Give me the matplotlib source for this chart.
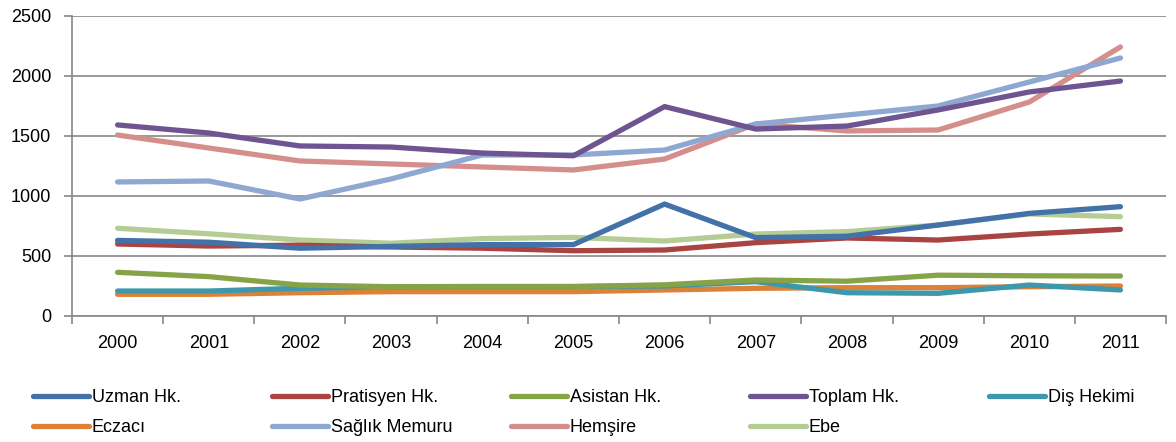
import matplotlib.pyplot as plt
from matplotlib.lines import Line2D

# years on the category axis
years = [str(y) for y in range(2000, 2012)]

uzman = [630, 615, 565, 580, 595, 595, 933, 653, 665, 758, 855, 911]
pratisyen = [600, 583, 590, 575, 565, 544, 550, 611, 650, 633, 683, 722]
asistan = [364, 328, 258, 244, 244, 245, 260, 300, 290, 340, 335, 333]
toplam = [1592, 1525, 1417, 1408, 1358, 1335, 1745, 1558, 1583, 1717, 1867, 1958]
dis_hekimi = [208, 208, 231, 244, 246, 246, 250, 286, 194, 189, 258, 217]
eczaci = [181, 181, 194, 203, 203, 203, 217, 231, 236, 236, 244, 250]
saglik_memuru = [1117, 1125, 975, 1142, 1342, 1342, 1383, 1600, 1675, 1750, 1950, 2150]
hemsire = [1508, 1400, 1292, 1267, 1242, 1217, 1308, 1600, 1542, 1550, 1783, 2242]
ebe = [731, 685, 633, 606, 645, 655, 625, 683, 703, 758, 850, 828]

series = [
    ("Uzman Hk.", uzman, "#4272a8"),
    ("Pratisyen Hk.", pratisyen, "#a94442"),
    ("Asistan Hk.", asistan, "#86a347"),
    ("Toplam Hk.", toplam, "#6e5490"),
    ("Diş Hekimi", dis_hekimi, "#3d98ad"),
    ("Eczacı", eczaci, "#dc8136"),
    ("Sağlık Memuru", saglik_memuru, "#8ea8d1"),
    ("Hemşire", hemsire, "#d48f8d"),
    ("Ebe", ebe, "#b5cc94"),
]

fig = plt.figure(figsize=(11.76, 4.42), dpi=100)
ax = fig.add_axes([72 / 1176, 1 - 316 / 442, 1094 / 1176, 300 / 442])

x = range(len(years))
# draw in reverse so first series sits on top like the original
for name, vals, col in reversed(series):
    ax.plot(x, vals, color=col, lw=3.8, solid_capstyle="round",
            solid_joinstyle="round", label=name)

ax.set_xlim(-0.5, len(years) - 0.5)
ax.set_ylim(0, 2500)
ax.set_yticks(range(0, 2501, 500))
ax.set_xticks(list(x))
ax.set_xticklabels(years)
ax.set_xticks([i - 0.5 for i in range(len(years) + 1)], minor=True)
ax.tick_params(axis="x", which="major", length=0, pad=14, labelsize=13)
ax.tick_params(axis="x", which="minor", length=6, color="#878787", width=1.2)
ax.tick_params(axis="y", length=6, color="#878787", width=1.2, labelsize=13, pad=9)
for lab in ax.get_xticklabels() + ax.get_yticklabels():
    lab.set_fontfamily("Liberation Sans")

ax.grid(axis="y", color="#878787", lw=1.2)
ax.set_axisbelow(True)
for s in ["top", "right"]:
    ax.spines[s].set_visible(False)
for s in ["left", "bottom"]:
    ax.spines[s].set_color("#878787")
    ax.spines[s].set_linewidth(1.2)

# legend: 5 evenly spaced columns, 2 rows
for c in range(5):
    items = [series[c]] + ([series[c + 5]] if c + 5 < len(series) else [])
    handles = [Line2D([], [], color=col, lw=3.8, solid_capstyle="round") for _, _, col in items]
    labels = [n for n, _, _ in items]
    fig.legend(handles, labels, loc="upper left",
               bbox_to_anchor=((33 + 239 * c) / 1176, 1 - 389 / 442),
               frameon=False, handlelength=3.1, handletextpad=0.15,
               labelspacing=0.72, borderpad=0, borderaxespad=0,
               prop={"family": "Liberation Sans", "size": 13})

fig.savefig("out.png", dpi=100)
